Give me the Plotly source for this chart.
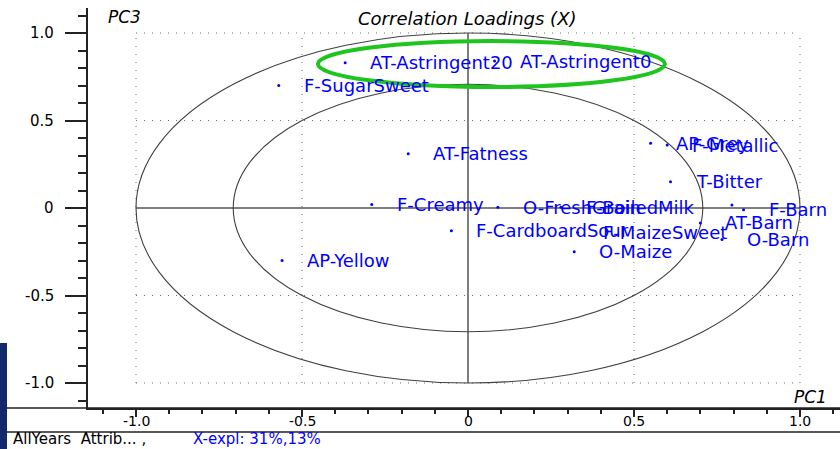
import plotly.graph_objects as go
import numpy as np

# ---- data (PC1, PC3 correlation loadings) ----
names = ["AT-Astringent20", "AT-Astringent0", "F-SugarSweet", "AT-Fatness", "F-Creamy",
         "AP-Yellow", "AP-Grey", "F-Metallic", "T-Bitter", "O-FreshGrain", "F-BoiledMilk",
         "F-CardboardSour", "F-MaizeSweet", "O-Maize", "AT-Barn", "F-Barn", "O-Barn", ""]
pc1 = [-0.37, 0.08, -0.57, -0.18, -0.29, -0.56, 0.55, 0.60, 0.61, 0.09, 0.28,
       -0.05, 0.33, 0.32, 0.70, 0.83, 0.765, 0.795]
pc3 = [0.83, 0.84, 0.70, 0.31, 0.02, -0.30, 0.37, 0.36, 0.15, 0.005, 0.005,
       -0.13, -0.14, -0.25, -0.085, -0.01, -0.18, 0.017]

tick_vals = [-1.0, -0.5, 0.0, 0.5, 1.0]
tick_text = ["-1.0", "-0.5", "0", "0.5", "1.0"]
title_text = "Correlation Loadings (X)"
status_black = "AllYears\u00a0\u00a0Attrib... ,"
status_blue = "X-expl: 31%,13%"

FONT = "DejaVu Sans"
W, H = 840, 449
L, R, T, B = 88, 0, 8, 41
pw, ph = W - L - R, H - T - B

def px_x(p):
    return (p - L) / pw

def px_y(p):
    return (H - B - p) / ph

fig = go.Figure()
fig.add_trace(go.Scatter(x=pc1, y=pc3, mode="markers",
                         marker=dict(size=3, color="#0000ff"),
                         text=names, hoverinfo="text"))

shapes = []
# dotted grid box
gcol = "#6f6f6f"
for v in [-1.0, -0.5, 0.5, 1.0]:
    shapes.append(dict(type="line", xref="x", yref="y", x0=v, x1=v, y0=-1, y1=1,
                       line=dict(color=gcol, width=1, dash="1px,7px"), layer="below"))
    shapes.append(dict(type="line", xref="x", yref="y", x0=-1, x1=1, y0=v, y1=v,
                       line=dict(color=gcol, width=1, dash="1px,7px"), layer="below"))
# zero axes
shapes.append(dict(type="line", xref="x", yref="y", x0=0, x1=0, y0=-1, y1=1,
                   line=dict(color="#555555", width=1.5), layer="below"))
shapes.append(dict(type="line", xref="x", yref="y", x0=-1, x1=1, y0=0, y1=0,
                   line=dict(color="#555555", width=1.5), layer="below"))
# circles (100% and 50% explained variance)
for r in [1.0, np.sqrt(0.5)]:
    shapes.append(dict(type="circle", xref="x", yref="y", x0=-r, x1=r, y0=-r, y1=r,
                       line=dict(color="#404040", width=1.1), layer="below"))
# green highlight ellipse
shapes.append(dict(type="circle", xref="x", yref="y", x0=-0.452, x1=0.593, y0=0.691, y1=0.954,
                   line=dict(color="#1fc41f", width=4)))
# x axis line extended to the left and separator line
shapes.append(dict(type="line", xref="paper", yref="paper", x0=px_x(7), x1=1, y0=0, y1=0,
                   line=dict(color="#222222", width=1.5)))
shapes.append(dict(type="line", xref="paper", yref="paper", x0=px_x(7), x1=1,
                   y0=px_y(432), y1=px_y(432), line=dict(color="#222222", width=1.5)))
# dark blue bar at lower left
shapes.append(dict(type="rect", xref="paper", yref="paper", x0=px_x(0), x1=px_x(7),
                   y0=px_y(449), y1=px_y(343), fillcolor="#12296c", line=dict(width=0)))

annotations = []
for n, x, y in zip(names, pc1, pc3):
    if n:
        annotations.append(dict(x=x, y=y, xref="x", yref="y", text=n, showarrow=False,
                                xanchor="left", yanchor="middle", xshift=23, yshift=0,
                                font=dict(family=FONT, size=18, color="#0000ff")))
# axis tick labels, placed through the axis scales
for v, t in zip(tick_vals, tick_text):
    annotations.append(dict(x=px_x(56), y=v, xref="paper", yref="y", text=t, showarrow=False,
                            xanchor="right", yanchor="middle",
                            font=dict(family=FONT, size=15, color="black")))
    annotations.append(dict(x=v, y=px_y(421), xref="x", yref="paper", text=t, showarrow=False,
                            xanchor="center", yanchor="middle", borderpad=0,
                            font=dict(family=FONT, size=14, color="black")))
annotations.append(dict(x=px_x(467), y=px_y(19), xref="paper", yref="paper",
                        text="<i>" + title_text + "</i>", showarrow=False,
                        xanchor="center", yanchor="middle",
                        font=dict(family=FONT, size=18, color="black")))
annotations.append(dict(x=px_x(106), y=px_y(17), xref="paper", yref="paper",
                        text="<i>PC3</i>", showarrow=False, xanchor="left", yanchor="middle",
                        font=dict(family=FONT, size=17, color="black")))
annotations.append(dict(x=px_x(829), y=px_y(397), xref="paper", yref="paper",
                        text="<i>PC1</i>", showarrow=False, xanchor="right", yanchor="middle",
                        font=dict(family=FONT, size=17, color="black")))
annotations.append(dict(x=px_x(12), y=px_y(449), xref="paper", yref="paper",
                        text=status_black, showarrow=False, xanchor="left", yanchor="bottom",
                        borderpad=0, font=dict(family=FONT, size=15, color="black")))
annotations.append(dict(x=px_x(192), y=px_y(449), xref="paper", yref="paper",
                        text=status_blue, showarrow=False, xanchor="left", yanchor="bottom",
                        borderpad=0, font=dict(family=FONT, size=15, color="#0000ff")))

x0 = (L - 468) / 332
x1 = x0 + pw / 332
y1 = (208 - T) / 175
y0 = y1 - ph / 175

fig.update_layout(
    width=W, height=H, margin=dict(l=L, r=R, t=T, b=B, pad=0),
    paper_bgcolor="white", plot_bgcolor="white", showlegend=False,
    shapes=shapes, annotations=annotations,
    xaxis=dict(range=[x0, x1], showgrid=False, zeroline=False, showline=True,
               linecolor="#222222", linewidth=1.5, showticklabels=False,
               tickmode="array", tickvals=tick_vals,
               ticks="outside", ticklen=7, tickwidth=1.5, tickcolor="#222222",
               minor=dict(ticks="outside", ticklen=4, dtick=0.1, tick0=0, tickcolor="#222222",
                          showgrid=False)),
    yaxis=dict(range=[y0, y1], showgrid=False, zeroline=False, showline=True,
               linecolor="#222222", linewidth=1.5, showticklabels=False,
               tickmode="array", tickvals=tick_vals,
               ticks="outside", ticklen=21, tickwidth=1.5, tickcolor="#222222",
               minor=dict(ticks="outside", ticklen=8, dtick=0.1, tick0=0, tickcolor="#222222",
                          showgrid=False)),
)

fig.write_html("out.html")
